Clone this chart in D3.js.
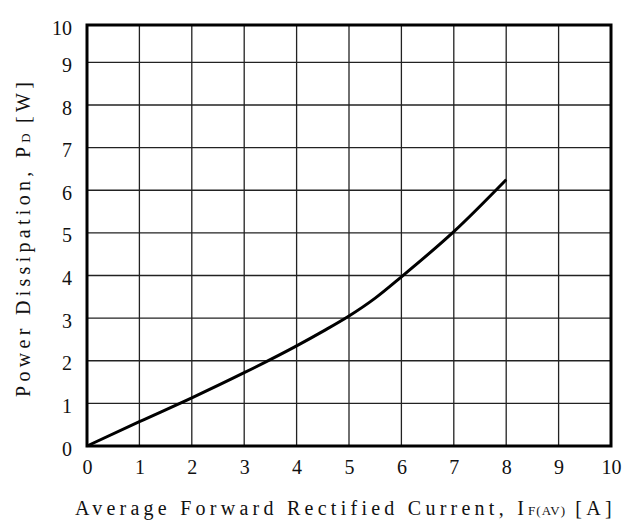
<!DOCTYPE html>
<html>
<head>
<meta charset="utf-8">
<script src="https://cdn.jsdelivr.net/npm/d3@7"></script>
<style>
  body { margin: 0; background: #fff; }
  text { font-family: "Liberation Serif", serif; fill: #111; }
</style>
</head>
<body>
<div id="plot"></div>
<script>
var currentA = [0, 1, 2, 3, 4, 4.5, 5, 5.5, 6, 7, 8];
var powerW = [0, 0.57, 1.13, 1.72, 2.35, 2.69, 3.05, 3.47, 3.97, 5.03, 6.25];
var xTicks = [0, 1, 2, 3, 4, 5, 6, 7, 8, 9, 10];
var yTicks = [0, 1, 2, 3, 4, 5, 6, 7, 8, 9, 10];

var margin = {top: 25, right: 24, bottom: 76, left: 87},
    width = 635,
    height = 522,
    plotWidth = width - margin.left - margin.right,
    plotHeight = height - margin.top - margin.bottom;

var xScale = d3.scaleLinear().domain([0, 10]).range([0, plotWidth]);
// the top row of the original grid is shorter than the others
var yScale = d3.scaleLinear().domain([0, 9, 10]).range([plotHeight, 37.4, 0]);

var svg = d3.select('#plot')
    .append('svg')
    .attr('width', width)
    .attr('height', height);

var g = svg.append('g')
    .attr('transform', 'translate(' + margin.left + ',' + margin.top + ')');

// grid
g.append('g')
    .selectAll('line')
    .data(xTicks)
    .enter()
    .append('line')
    .attr('x1', function (d) { return xScale(d); })
    .attr('x2', function (d) { return xScale(d); })
    .attr('y1', 0)
    .attr('y2', plotHeight)
    .attr('stroke', '#222')
    .attr('stroke-width', 1.3);

g.append('g')
    .selectAll('line')
    .data(yTicks)
    .enter()
    .append('line')
    .attr('y1', function (d) { return yScale(d); })
    .attr('y2', function (d) { return yScale(d); })
    .attr('x1', 0)
    .attr('x2', plotWidth)
    .attr('stroke', '#222')
    .attr('stroke-width', 1.3);

// axes (labels only)
var xAxis = d3.axisBottom(xScale).tickValues(xTicks).tickSize(0).tickPadding(14);
var yAxis = d3.axisLeft(yScale).tickValues(yTicks).tickSize(0).tickPadding(15);

g.append('g')
    .attr('transform', 'translate(0,' + plotHeight + ')')
    .call(xAxis)
    .call(function (a) { a.select('.domain').remove(); })
    .selectAll('text')
    .style('font-family', '"Liberation Serif", serif')
    .style('font-size', '20px')
    .attr('fill', '#111');

g.append('g')
    .call(yAxis)
    .call(function (a) { a.select('.domain').remove(); })
    .selectAll('text')
    .style('font-family', '"Liberation Serif", serif')
    .style('font-size', '20px')
    .attr('dy', '0.45em')
    .attr('fill', '#111');

// curve
var line = d3.line()
    .x(function (d, i) { return xScale(currentA[i]); })
    .y(function (d) { return yScale(d); })
    .curve(d3.curveMonotoneX);

g.append('path')
    .datum(powerW)
    .attr('d', line)
    .attr('fill', 'none')
    .attr('stroke', '#000')
    .attr('stroke-width', 3);

// frame
g.append('rect')
    .attr('x', 0)
    .attr('y', 0)
    .attr('width', plotWidth)
    .attr('height', plotHeight)
    .attr('fill', 'none')
    .attr('stroke', '#000')
    .attr('stroke-width', 3);

// titles
var xt = svg.append('text')
    .attr('x', 75)
    .attr('y', 515)
    .style('font-size', '20px')
    .style('letter-spacing', '4.25px');
xt.append('tspan').text('Average Forward Rectified Current, I');
xt.append('tspan').style('font-size', '13px').style('letter-spacing', '1px').text('F(AV)');
xt.append('tspan').text(' [A]');

var yt = svg.append('text')
    .attr('transform', 'translate(30,397) rotate(-90)')
    .style('font-size', '20px')
    .style('letter-spacing', '4.3px');
yt.append('tspan').text('Power Dissipation, P');
yt.append('tspan').style('font-size', '13px').style('letter-spacing', '1px').text('D');
yt.append('tspan').text(' [W]');
</script>
</body>
</html>
